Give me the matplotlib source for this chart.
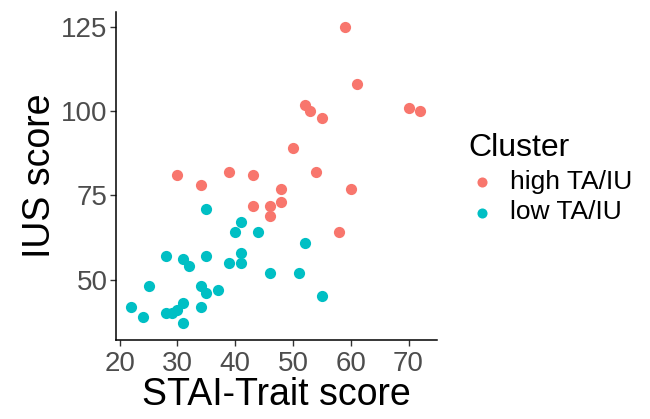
import matplotlib.pyplot as plt

plt.rcParams['font.family'] = ['Liberation Sans', 'DejaVu Sans']

# STAI-Trait / IUS scores
high_stai = [59, 61, 52, 53, 55, 70, 72, 50, 30, 39, 43, 54, 34, 48, 60, 43, 46, 48, 46, 58]
high_ius = [125, 108, 102, 100, 98, 101, 100, 89, 81, 82, 81, 82, 78, 77, 77, 72, 72, 73, 69, 64]

low_stai = [35, 41, 40, 44, 52, 28, 31, 32, 35, 41, 41, 39, 46, 51, 25, 34, 35, 37, 55,
            22, 24, 28, 29, 30, 31, 34, 31]
low_ius = [71, 67, 64, 64, 61, 57, 56, 54, 57, 58, 55, 55, 52, 52, 48, 48, 46, 47, 45,
           42, 39, 40, 40, 41, 43, 42, 37]

groups = ["high TA/IU", "low TA/IU"]
colors = ["#F8766D", "#00BFC4"]

fig = plt.figure(figsize=(6.5, 4.19), dpi=100)
ax = fig.add_axes([0.178, 0.189, 0.494, 0.782])

ax.scatter(high_stai, high_ius, s=65, color=colors[0], label=groups[0], linewidths=0)
ax.scatter(low_stai, low_ius, s=65, color=colors[1], label=groups[1], linewidths=0)

ax.set_xlim(19.3, 74.9)
ax.set_ylim(32.1, 129.5)
ax.set_xticks([20, 30, 40, 50, 60, 70])
ax.set_yticks([50, 75, 100, 125])

for side in ["top", "right"]:
    ax.spines[side].set_visible(False)
for side in ["left", "bottom"]:
    ax.spines[side].set_color("black")
    ax.spines[side].set_linewidth(1.1)

ax.tick_params(axis="both", direction="out", length=4, width=1, color="#333333",
               labelsize=20, labelcolor="#4D4D4D")
ax.tick_params(axis="y", pad=2)
ax.tick_params(axis="x", pad=4)

ax.set_xlabel("STAI-Trait score", fontsize=27, labelpad=0)
ax.set_ylabel("IUS score", fontsize=27, labelpad=2)

leg = ax.legend(title="Cluster", loc="upper left", bbox_to_anchor=(0.721, 0.682),
                bbox_transform=fig.transFigure, frameon=False, fontsize=19,
                title_fontsize=23, handlelength=1.0, handletextpad=0.55,
                labelspacing=0.25, markerscale=0.9, borderaxespad=0, borderpad=0)
leg._legend_box.align = "left"

fig.savefig("out.png", dpi=100)
